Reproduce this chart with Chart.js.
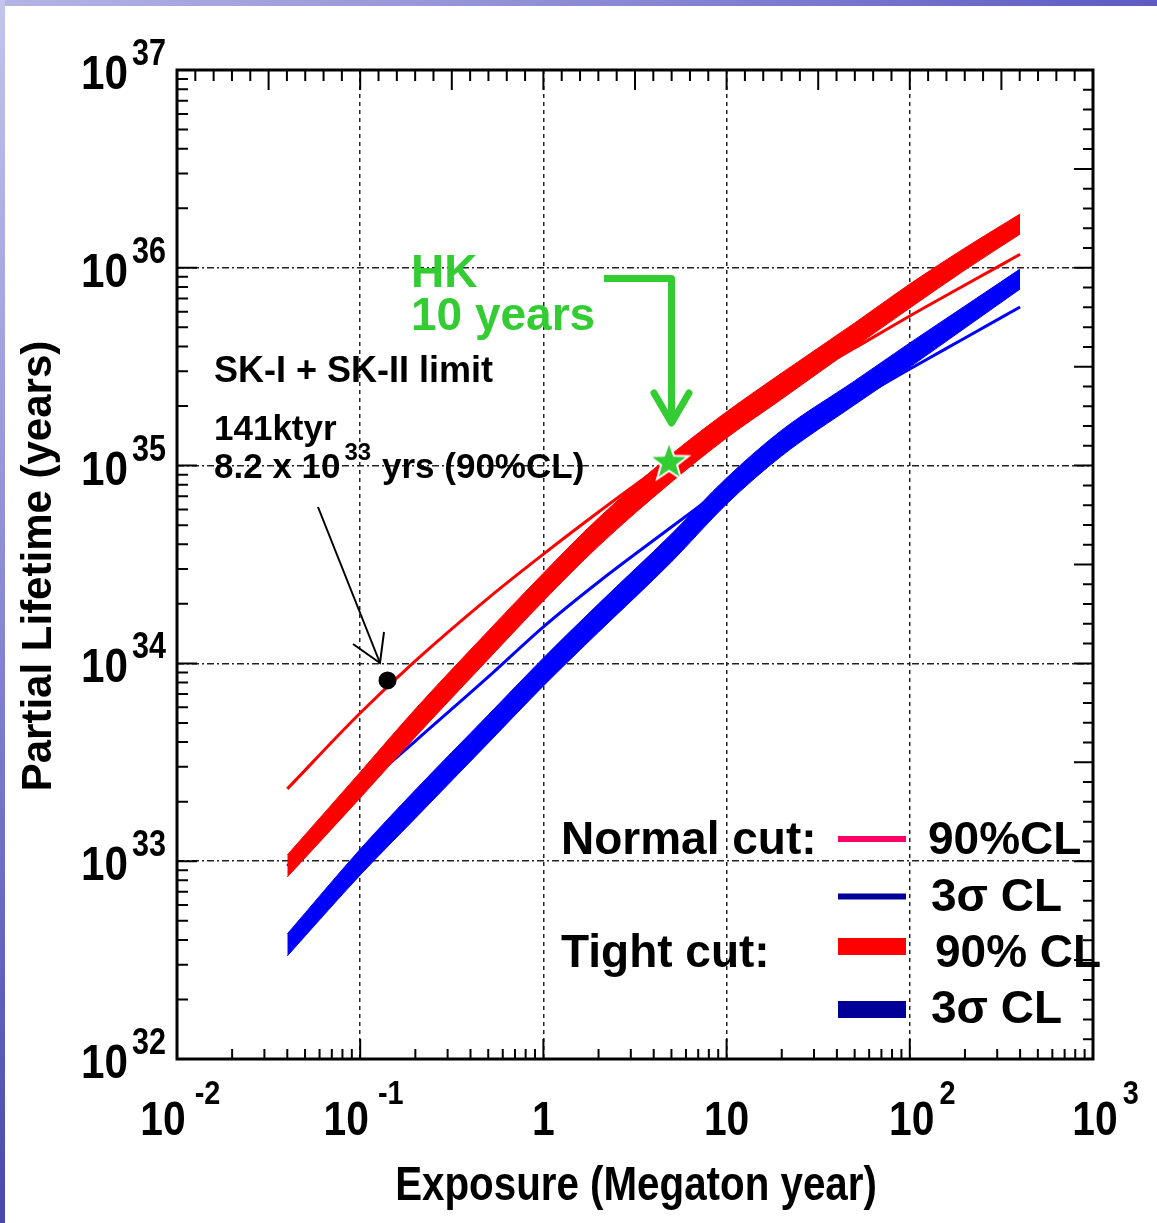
<!DOCTYPE html>
<html>
<head>
<meta charset="utf-8">
<script src="https://cdn.jsdelivr.net/npm/chart.js@4.4.1/dist/chart.umd.min.js"></script>
<style>
html,body{margin:0;padding:0;background:#fff;}
#wrap{position:relative;width:1157px;height:1223px;overflow:hidden;background:#fff;}
#c{position:absolute;left:0;top:0;}
#topbar{position:absolute;left:0;top:0;width:1157px;height:6px;background:linear-gradient(to right,#b4b4e4,#8c8cd6 50%,#5c5cc2);}
#leftbar{position:absolute;left:0;top:0;width:5px;height:1223px;background:linear-gradient(to bottom,#c4c4ee,#8888d4 50%,#4848ae);}
</style>
</head>
<body>
<div id="wrap">
<canvas id="c" width="1157" height="1223"></canvas>
<div id="topbar"></div>
<div id="leftbar"></div>
</div>
<script>
// ---- data ----
const exposure = [0.04, 0.1, 0.2, 0.5, 1, 2, 5, 10, 20, 50, 100, 200, 400];
const tight90Upper = [1.075e33, 2.82e33, 5.88e33, 1.46e34, 2.86e34, 5.43e34, 1.14e35, 1.87e35, 2.94e35, 5.26e35, 8.28e35, 1.26e36, 1.87e36];
const tight90Lower = [8.32e32, 2.09e33, 4.25e33, 1.05e34, 2.07e34, 3.92e34, 8.26e34, 1.38e35, 2.17e35, 3.98e35, 6.26e35, 9.75e35, 1.48e36];
const tight3sUpper = [4.29e32, 1.15e33, 2.29e33, 5.49e33, 1.065e34, 2.00e34, 4.51e34, 8.66e34, 1.51e35, 2.68e35, 4.17e35, 6.41e35, 9.86e35];
const tight3sLower = [3.32e32, 8.51e32, 1.65e33, 3.96e33, 7.69e33, 1.44e34, 3.26e34, 6.39e34, 1.12e35, 2.03e35, 3.15e35, 4.96e35, 7.81e35];
const normal90 = [2.32e33, 5.61e33, 1.03e34, 2.14e34, 3.57e34, 5.83e34, 1.08e35, 1.66e35, 2.41e35, 3.93e35, 5.71e35, 8.18e35, 1.17e36];
const normal3s = [9.46e32, 2.29e33, 4.05e33, 8.54e33, 1.53e34, 2.58e34, 4.89e34, 7.89e34, 1.26e35, 2.12e35, 3.08e35, 4.42e35, 6.34e35];
const skExposure = [0.141];
const skLimit = [8.2e33];
const hkExposure = [4.85];
const hkLimit = [1.05e35];
const xDecades = [0.01, 0.1, 1, 10, 100, 1000];
const xTickBase = ['10', '10', '1', '10', '10', '10'];
const xTickSup = ['-2', '-1', '', '', '2', '3'];
const yDecades = [1e32, 1e33, 1e34, 1e35, 1e36, 1e37];
const yTickBase = ['10', '10', '10', '10', '10', '10'];
const yTickSup = ['32', '33', '34', '35', '36', '37'];

const FONT = '"Liberation Sans", Arial, sans-serif';
const GREEN = '#33cc33';

function pts(xs, ys) { return xs.map((x, i) => ({ x: x, y: ys[i] })); }

// star marker image
function makeStar() {
  const cv = document.createElement('canvas');
  cv.width = 46; cv.height = 46;
  const g = cv.getContext('2d');
  g.translate(23, 24);
  g.beginPath();
  for (let i = 0; i < 10; i++) {
    const r = (i % 2 === 0) ? 20.5 : 8.4;
    const ang = -Math.PI / 2 + i * Math.PI / 5;
    const px = r * Math.cos(ang), py = r * Math.sin(ang);
    if (i === 0) g.moveTo(px, py); else g.lineTo(px, py);
  }
  g.closePath();
  g.fillStyle = GREEN; g.fill();
  g.lineWidth = 2; g.strokeStyle = '#ffffff'; g.lineJoin = 'miter'; g.stroke();
  return cv;
}

function txt(c, s, x, y, size, opts) {
  opts = opts || {};
  c.save();
  c.font = (opts.weight || 'bold') + ' ' + size + 'px ' + (opts.family || FONT);
  c.fillStyle = opts.color || '#000';
  c.textAlign = opts.align || 'left';
  c.textBaseline = 'alphabetic';
  c.translate(x, y);
  if (opts.rot) c.rotate(opts.rot);
  c.scale(opts.sx || 1, 1);
  c.fillText(s, 0, 0);
  const w = c.measureText(s).width * (opts.sx || 1);
  c.restore();
  return w;
}
function measure(c, s, size, sx) {
  c.save(); c.font = 'bold ' + size + 'px ' + FONT; const w = c.measureText(s).width * (sx || 1); c.restore(); return w;
}

const deco = {
  id: 'deco',
  afterDatasetsDraw(chart) {
    const c = chart.ctx, a = chart.chartArea, xs = chart.scales.x, ys = chart.scales.y;
    c.save();
    // ticks
    c.strokeStyle = '#000'; c.lineWidth = 2; c.beginPath();
    for (let e = -2; e < 3; e++) for (let m = 1; m < 10; m++) {
      const px = xs.getPixelForValue(m * Math.pow(10, e));
      const L = m === 1 ? 20 : 10;
      c.moveTo(px, a.bottom); c.lineTo(px, a.bottom - L);
    }
    for (let e = 32; e < 37; e++) for (let m = 1; m < 10; m++) {
      const py = ys.getPixelForValue(m * Math.pow(10, e));
      const L = m === 1 ? 20 : 11;
      c.moveTo(a.left, py); c.lineTo(a.left + L, py);
    }
    for (let k = 0; k <= 50; k++) {
      const px = xs.getPixelForValue(Math.pow(10, -2 + k * 0.1));
      const L = k % 5 === 0 ? 20 : 11;
      c.moveTo(px, a.top); c.lineTo(px, a.top + L);
      const py = ys.getPixelForValue(Math.pow(10, 32 + k * 0.1));
      const L2 = k % 5 === 0 ? 19 : 10;
      c.moveTo(a.right, py); c.lineTo(a.right - L2, py);
    }
    c.stroke();
    // frame
    c.lineWidth = 3; c.strokeRect(a.left, a.top, a.right - a.left, a.bottom - a.top);

    // x tick labels
    const sx = 0.85;
    xDecades.forEach((v, i) => {
      const px = xs.getPixelForValue(v);
      const base = xTickBase[i], sup = xTickSup[i];
      const bw = measure(c, base, 48, sx);
      let cx = px;
      if (sup) cx = px + (sup[0] === '-' ? -14 : 2);
      txt(c, base, cx, 1135, 48, { align: 'center', sx: sx });
      if (sup) txt(c, sup, cx + bw / 2 + (sup[0] === '-' ? 9 : 5), 1104, 34, { sx: sx });
    });
    // y tick labels
    yDecades.forEach((v, i) => {
      const py = ys.getPixelForValue(v);
      txt(c, yTickBase[i], 128, py + 19, 48, { align: 'right', sx: 0.88 });
      txt(c, yTickSup[i], 132, py - 5, 36, { sx: 0.85 });
    });
    // axis titles
    txt(c, 'Exposure (Megaton year)', 636, 1200, 48, { align: 'center', sx: 0.84 });
    txt(c, 'Partial Lifetime (years)', 51, 566, 42, { align: 'center', rot: -Math.PI / 2 });

    // HK annotation
    txt(c, 'HK', 411, 287, 46, { color: GREEN });
    txt(c, '10 years', 411, 330, 46, { color: GREEN });
    c.strokeStyle = GREEN; c.lineWidth = 7; c.lineJoin = 'round'; c.lineCap = 'butt';
    c.beginPath(); c.moveTo(604, 278.5); c.lineTo(671.5, 278.5); c.lineTo(671.5, 420); c.stroke();
    c.lineCap = 'round';
    c.beginPath(); c.moveTo(654, 393); c.lineTo(671.5, 423); c.lineTo(689, 393); c.stroke();

    // SK annotation
    txt(c, 'SK-I + SK-II limit', 214, 382, 36);
    txt(c, '141ktyr', 214, 440, 35);
    const w1 = txt(c, '8.2 x 10', 214, 478, 35);
    txt(c, '33', 214 + w1 + 4, 460, 24);
    txt(c, 'yrs (90%CL)', 382, 478, 35);
    c.strokeStyle = '#000'; c.lineWidth = 2; c.lineCap = 'butt'; c.lineJoin = 'miter';
    c.beginPath(); c.moveTo(318, 507); c.lineTo(380, 663); c.stroke();
    c.beginPath(); c.moveTo(353, 644); c.lineTo(380, 663); c.lineTo(384, 632); c.stroke();

    // legend
    c.fillStyle = '#ff0066'; c.fillRect(838, 836, 68, 6);
    c.fillStyle = '#000099'; c.fillRect(838, 893.5, 68, 6);
    c.fillStyle = '#ff0000'; c.fillRect(838, 938, 68, 17);
    c.fillStyle = '#000099'; c.fillRect(838, 1001, 68, 17);
    txt(c, 'Normal cut:', 561, 854, 46);
    txt(c, '90%CL', 928, 854, 46);
    txt(c, '3\u03c3 CL', 931, 911, 46);
    txt(c, 'Tight cut:', 561, 967, 46);
    txt(c, '90% CL', 935, 967, 46);
    txt(c, '3\u03c3 CL', 931, 1023, 46);
    c.restore();
  }
};

const lineBase = { showLine: true, pointRadius: 0, cubicInterpolationMode: 'monotone' };

new Chart(document.getElementById('c'), {
  type: 'scatter',
  data: {
    datasets: [
      { label: 'HK 10 years', data: pts(hkExposure, hkLimit), pointStyle: makeStar(), pointRadius: 10, order: 0 },
      { label: 'SK-I + SK-II limit', data: pts(skExposure, skLimit), pointStyle: 'circle', pointRadius: 9, pointBackgroundColor: '#000', pointBorderColor: '#000', pointBorderWidth: 0, order: 1 },
      Object.assign({ label: 'Tight cut 90% CL', data: pts(exposure, tight90Upper), borderColor: '#ff0000', backgroundColor: '#ff0000', borderWidth: 1, fill: '+1', order: 2 }, lineBase),
      Object.assign({ label: 'Tight cut 90% CL low', data: pts(exposure, tight90Lower), borderColor: '#ff0000', borderWidth: 1, fill: false, order: 3 }, lineBase),
      Object.assign({ label: 'Tight cut 3σ CL', data: pts(exposure, tight3sUpper), borderColor: '#0000ff', backgroundColor: '#0000ff', borderWidth: 1, fill: '+1', order: 4 }, lineBase),
      Object.assign({ label: 'Tight cut 3σ CL low', data: pts(exposure, tight3sLower), borderColor: '#0000ff', borderWidth: 1, fill: false, order: 5 }, lineBase),
      Object.assign({ label: 'Normal cut 90% CL', data: pts(exposure, normal90), borderColor: '#ff0000', borderWidth: 3, fill: false, order: 6 }, lineBase),
      Object.assign({ label: 'Normal cut 3σ CL', data: pts(exposure, normal3s), borderColor: '#0000ff', borderWidth: 3, fill: false, order: 7 }, lineBase)
    ]
  },
  options: {
    responsive: false,
    animation: false,
    events: [],
    layout: { padding: { left: 177, right: 64, top: 70, bottom: 164 } },
    plugins: { legend: { display: false }, tooltip: { enabled: false } },
    scales: {
      x: {
        type: 'logarithmic', min: 0.01, max: 1000, position: 'bottom',
        afterBuildTicks: s => { s.ticks = xDecades.map(v => ({ value: v })); },
        afterFit: s => { s.height = 0; },
        ticks: { display: false },
        grid: { color: '#222', lineWidth: 1.5, drawTicks: false },
        border: { display: false, dash: [4, 4] }
      },
      y: {
        type: 'logarithmic', min: 1e32, max: 1e37, position: 'left',
        afterBuildTicks: s => { s.ticks = yDecades.map(v => ({ value: v })); },
        afterFit: s => { s.width = 0; },
        ticks: { display: false },
        grid: { color: '#222', lineWidth: 1.5, drawTicks: false },
        border: { display: false, dash: [7, 3, 2, 3] }
      }
    }
  },
  plugins: [deco]
});
</script>
</body>
</html>
